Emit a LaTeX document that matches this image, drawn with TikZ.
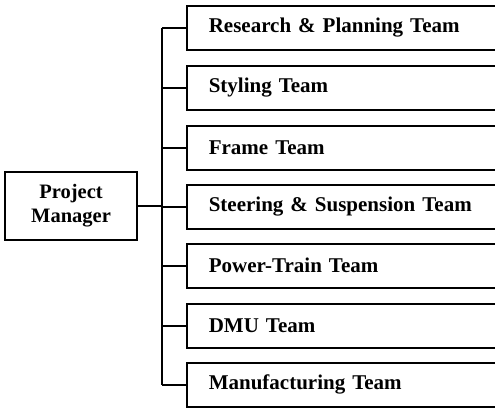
\documentclass[tikz,border=0pt]{standalone}
\usepackage{fontspec}
\setmainfont{Liberation Serif}[WordSpace=0.75]
\begin{document}
\begin{tikzpicture}[x=1pt,y=-1pt,
  line width=1.6pt,
  team/.style={draw, rectangle, anchor=north west, minimum width=400pt,
    minimum height=44pt, text width=356pt, align=left, inner xsep=22pt,
    font=\fontsize{21}{24}\selectfont\bfseries},
  lead/.style={draw, rectangle, minimum width=132pt, minimum height=68pt,
    align=center, font=\fontsize{20.5}{24}\selectfont\bfseries}]
  \useasboundingbox (0,0) rectangle (495,407);
  \clip (0,0) rectangle (495,407);
  % the manager
  \node[lead] (pm) at (71,206) {Project\\Manager};
  % the teams
  \node[team] (r1) at (186,5)   {Research \& Planning Team};
  \node[team] (r2) at (186,65)  {Styling Team};
  \node[team] (r3) at (186,125) {Frame Team};
  \node[team] (r4) at (186,184) {Steering \& Suspension Team};
  \node[team] (r5) at (186,243) {Power-Train Team};
  \node[team] (r6) at (186,303) {DMU Team};
  \node[team] (r7) at (186,362) {Manufacturing Team};
  % connectors
  \coordinate (bus) at (162,206);
  \draw (pm.east) -- (bus);
  \draw (bus |- r1.west) -- (bus |- r7.west);
  \foreach \i in {1,...,7}
    \draw (bus |- r\i.west) -- (r\i.west);
\end{tikzpicture}
\end{document}
